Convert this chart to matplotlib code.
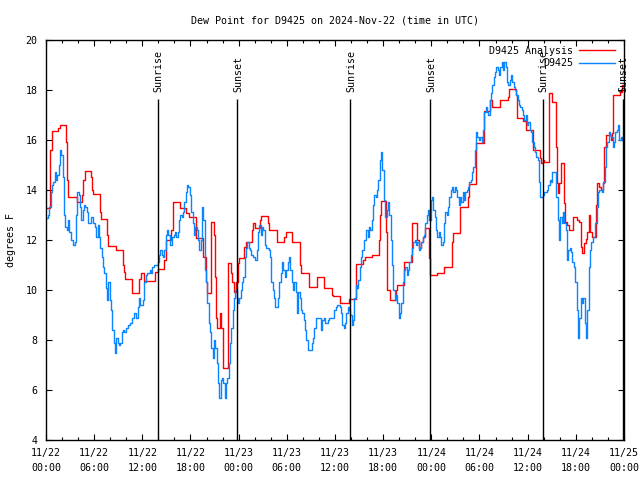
import numpy as np
import pandas as pd
import matplotlib
matplotlib.use("Agg")
import matplotlib.pyplot as plt

# hours since 2024-11-22 00:00 UTC
analysis_hours = [
    0.0, 0.5, 0.75, 1.5, 1.75, 2.54, 2.62, 2.8, 3.8, 4.5, 4.6, 4.83, 5.6, 5.75,
    5.875, 6.7, 6.9, 7.6, 7.75, 8.67, 9.6, 9.67, 9.8, 10.67, 11.6, 11.83, 12.17,
    13.6, 13.9, 14.67, 14.9, 15.6, 15.8, 16.67, 17.5, 17.8, 18.7, 19.6, 19.9,
    20.1, 20.6, 20.87, 21.0, 21.2, 21.3, 21.67, 21.83, 22.0, 22.67, 23.0, 23.2,
    23.4, 23.7, 23.87, 24.08, 24.67, 24.87, 25.6, 25.75, 26.04, 26.67, 26.8,
    27.7, 27.8, 28.75, 29.6, 29.92, 30.6, 31.67, 31.8, 32.7, 33.75, 34.67, 35.6,
    35.75, 36.67, 37.75, 38.58, 38.67, 39.5, 39.7, 40.67, 41.45, 41.6, 41.7,
    42.4, 42.5, 42.83, 43.58, 43.7, 44.6, 45.55, 45.6, 46.25, 46.5, 46.7, 46.9,
    47.2, 47.67, 47.75, 47.875, 48.67, 49.6, 50.58, 50.67, 51.58, 52.54, 52.67,
    53.58, 54.54, 55.37, 55.58, 56.58, 57.5, 57.67, 58.5, 58.67, 59.4, 59.75,
    60.67, 61.5, 61.6, 61.85, 62.04, 62.6, 62.67, 63.08, 63.58, 63.7, 63.83,
    63.92, 64.1, 64.54, 64.67, 64.95, 65.17, 65.67, 66.2, 66.42, 66.62, 66.83,
    67.04, 67.25, 67.45, 67.67, 67.8, 67.96, 68.5, 68.62, 68.83, 69.1, 69.33,
    69.54, 69.75, 70.4, 70.5, 70.67, 71.54, 71.75, 71.9,
]
analysis_dewpt = [
    13.27, 15.6, 16.37, 16.47, 16.6, 15.9, 14.4, 13.7, 13.5, 13.8, 14.4, 14.76,
    14.5, 14.0, 13.83, 13.1, 12.84, 12.2, 11.76, 11.6, 11.0, 10.73, 10.44, 9.87,
    10.44, 10.7, 10.36, 10.71, 10.84, 11.2, 12.0, 12.4, 13.53, 13.27, 13.07,
    12.93, 12.07, 11.33, 10.3, 9.87, 12.73, 12.2, 10.5, 8.9, 8.47, 9.07, 8.5,
    6.87, 11.07, 10.67, 10.3, 9.9, 10.3, 11.07, 11.27, 11.73, 11.93, 12.4, 12.67,
    12.47, 12.8, 12.97, 12.67, 12.4, 11.93, 12.1, 12.3, 11.93, 11.0, 10.67,
    10.13, 10.53, 10.07, 9.8, 9.76, 9.47, 9.63, 10.33, 11.03, 11.2, 11.3, 11.4,
    12.0, 13.0, 13.56, 12.3, 10.0, 9.6, 10.0, 10.2, 11.13, 12.27, 12.67, 12.0,
    11.67, 11.9, 12.13, 12.47, 11.6, 11.27, 10.6, 10.67, 10.9, 11.93, 12.29,
    13.33, 13.73, 14.24, 15.87, 17.16, 17.6, 17.33, 17.6, 17.7, 18.03, 17.8,
    16.87, 16.77, 16.4, 15.6, 15.27, 15.07, 15.2, 15.1, 16.9, 17.87, 17.53,
    15.73, 14.27, 13.87, 14.27, 15.07, 13.47, 12.73, 12.6, 12.4, 12.93, 12.8,
    12.73, 11.73, 11.47, 11.87, 12.03, 12.33, 13.0, 12.33, 12.13, 13.4, 14.27,
    14.13, 14.0, 14.27, 15.73, 16.2, 16.0, 16.27, 17.8, 17.93, 18.2, 18.2,
]

# station obs, every 10 min starting 00:05 UTC
obs_start_hour = 5 / 60
obs_step_hour = 10 / 60
obs_dewpt = [
    12.87, 13.0, 13.3, 13.9, 14.2, 14.3, 14.7, 14.4, 14.6, 15.0, 15.6, 15.4,
    14.5, 13.0, 12.5, 12.4, 12.8, 12.3, 12.0, 12.0, 11.8, 11.9, 13.0, 13.9,
    13.8, 13.3, 12.8, 13.2, 13.4, 13.3, 13.1, 12.7, 12.7, 12.9, 12.9, 12.7,
    12.5, 12.1, 12.6, 12.1, 11.7, 11.3, 10.9, 10.7, 10.1, 9.6, 10.3, 9.6,
    9.2, 8.4, 7.9, 7.5, 8.1, 7.9, 7.8, 7.9, 8.3, 8.4, 8.3, 8.5,
    8.5, 8.6, 8.7, 8.7, 8.9, 9.1, 9.1, 8.9, 9.3, 9.7,
    # 11/22 11:45
    9.4, 9.4, 9.6, 10.3, 10.6, 10.7, 10.7, 10.8, 10.7, 10.9, 11.0, 11.0,
    11.0, 11.1, 11.4, 11.6, 11.4, 11.3, 11.6, 12.2, 12.4, 12.2, 11.8, 11.8,
    12.1, 12.2, 12.3, 12.1, 12.3, 12.8, 13.0, 12.9, 13.1, 13.5, 13.9, 14.2,
    14.1, 13.8, 13.1, 12.7, 12.2, 12.5, 12.4, 12.0, 11.6, 12.0, 13.3, 12.8,
    10.8, 10.3, 9.5, 8.7, 8.3, 7.7, 7.3, 8.0, 7.7, 7.1, 6.3, 5.7,
    6.4, 6.5, 6.3, 5.7, 6.3, 6.5, 7.1, 7.9, 8.5, 9.2, 9.7, 10.0,
    # 11/22 23:45
    9.7, 9.5, 9.7, 10.0, 10.3, 10.5, 11.3, 11.7, 11.9, 11.7, 11.6, 11.4,
    11.3, 11.3, 11.2, 11.6, 12.3, 12.6, 12.2, 12.5, 12.4, 11.8, 11.7, 11.7,
    11.6, 11.3, 10.3, 10.0, 9.7, 9.3, 9.3, 9.7, 10.3, 10.7, 11.1, 10.8,
    10.5, 10.8, 11.1, 11.3, 10.8, 10.3, 10.0, 10.3, 9.9, 9.1, 9.9, 9.7,
    9.2, 9.1, 8.8, 8.4, 8.0, 7.6, 7.6, 7.6, 7.9, 8.1, 8.5, 8.9,
    8.9, 8.9, 8.9, 8.4, 8.8, 8.9, 8.7, 8.7, 8.8, 8.9, 8.9, 8.9,
    # 11/23 11:45
    8.9, 9.2, 9.3, 9.4, 9.4, 9.3, 9.1, 8.6, 8.5, 8.7, 9.1, 9.3,
    9.2, 9.0, 8.6, 8.8, 9.7, 10.2, 10.1, 10.4, 10.9, 11.3, 11.6, 12.0,
    12.0, 12.4, 12.1, 12.5, 12.4, 12.8, 13.4, 13.8, 13.7, 14.0, 14.4, 15.2,
    15.5, 14.8, 13.6, 12.9, 13.2, 13.5, 13.0, 12.0, 11.0, 10.0, 9.6, 9.8,
    9.5, 8.9, 9.1, 9.5, 10.3, 10.8, 10.9, 10.6, 10.8, 11.1, 11.4, 11.7,
    11.9, 12.0, 11.8, 11.9, 11.6, 11.7, 11.9, 12.1, 12.2, 12.7, 13.0, 13.2,
    # 11/23 23:45
    12.8, 13.6, 13.7, 13.2, 12.9, 12.4, 12.1, 12.3, 12.1, 11.8, 11.9, 12.7,
    13.1, 13.0, 13.3, 13.7, 14.0, 14.1, 13.9, 14.1, 14.0, 13.7, 13.4, 13.7,
    13.5, 13.9, 13.6, 13.9, 14.0, 14.1, 14.3, 14.4, 14.7, 14.9, 15.6, 16.3,
    16.1, 16.0, 16.1, 15.9, 16.4, 17.1, 17.3, 17.1, 17.0, 17.6, 17.9, 18.2,
    18.5, 18.7, 18.9, 18.8, 18.6, 18.9, 19.1, 18.8, 19.1, 18.9, 18.3, 18.2,
    18.4, 18.6, 18.3, 18.1, 18.0, 17.8, 17.6, 17.4, 17.3, 17.2, 17.0, 16.8,
    # 11/24 11:45
    17.0, 16.6, 16.7, 16.4, 16.3, 15.9, 15.7, 15.5, 15.3, 15.2, 14.3, 13.7,
    13.7, 13.8, 13.9, 13.9, 14.0, 14.2, 14.4, 14.3, 14.7, 14.7, 14.7, 13.7,
    12.8, 12.0, 12.9, 12.7, 13.1, 12.7, 12.4, 11.2, 11.6, 11.7, 11.5, 11.1,
    10.9, 10.3, 9.2, 8.1, 8.9, 9.7, 9.5, 9.7, 8.7, 8.1, 9.2, 10.9,
    11.6, 11.9, 12.1, 12.1, 12.7, 13.3, 13.9, 14.0, 14.0, 13.9, 14.3, 14.9,
    15.7, 15.9, 16.3, 16.2, 16.1, 15.7, 15.9, 16.3, 16.4, 16.6, 16.0, 16.1,
    16.0,
]

sun_hours = [13.9, 23.83, 37.9, 47.83, 61.85, 71.83]
sun_labels = ["Sunrise", "Sunset", "Sunrise", "Sunset", "Sunrise", "Sunset"]

tick_hours = list(range(0, 73, 6))
tick_labels = [
    "11/22\n00:00", "11/22\n06:00", "11/22\n12:00", "11/22\n18:00",
    "11/23\n00:00", "11/23\n06:00", "11/23\n12:00", "11/23\n18:00",
    "11/24\n00:00", "11/24\n06:00", "11/24\n12:00", "11/24\n18:00",
    "11/25\n00:00",
]

plt.rcParams['font.family'] = ['DejaVu Sans Mono']
fs = 7.2

obs_hours = obs_start_hour + obs_step_hour * np.arange(len(obs_dewpt))
df = pd.DataFrame({'hour': obs_hours, 'dewpt': obs_dewpt})

fig = plt.figure(figsize=(6.4, 4.8), dpi=100)
ax = fig.add_axes([46 / 640, 40 / 480, 578 / 640, 400 / 480])

ax.plot(analysis_hours, analysis_dewpt, drawstyle='steps-post',
        color='#ff0000', lw=1.0, label='D9425 Analysis')
ax.plot(df['hour'], df['dewpt'], drawstyle='steps-post',
        color='#0a84ff', lw=1.0, label='D9425')

ax.vlines(sun_hours, 4, 17.64, color='black', lw=1.0)
for h, lab in zip(sun_hours, sun_labels):
    ax.text(h + 0.15, 17.92, lab, rotation=90, ha='center', va='bottom',
            fontsize=fs)

ax.set_xlim(0, 72)
ax.set_ylim(4, 20)
ax.set_xticks(tick_hours)
ax.set_xticklabels(tick_labels, fontsize=fs, linespacing=1.6)
ax.set_xticks(range(0, 73, 2), minor=True)
ax.set_yticks(range(4, 21, 2))
ax.set_yticklabels([str(v) for v in range(4, 21, 2)], fontsize=fs)
ax.tick_params(which='both', direction='in', top=True, right=True,
               width=0.8, color='black')
ax.tick_params(which='major', length=4, pad=6)
ax.tick_params(which='minor', length=2.5)
for sp in ax.spines.values():
    sp.set_linewidth(1.0)

ax.set_ylabel('degrees F', fontsize=fs, labelpad=7)
ax.set_title('Dew Point for D9425 on 2024-Nov-22 (time in UTC)',
             fontsize=fs, pad=12)

ax.legend(loc='upper right', frameon=False, markerfirst=False, fontsize=fs,
          handlelength=3.6, handletextpad=0.6, labelspacing=0.25,
          borderaxespad=0.2, bbox_to_anchor=(0.995, 1.0))

fig.savefig('out.png', dpi=100)
